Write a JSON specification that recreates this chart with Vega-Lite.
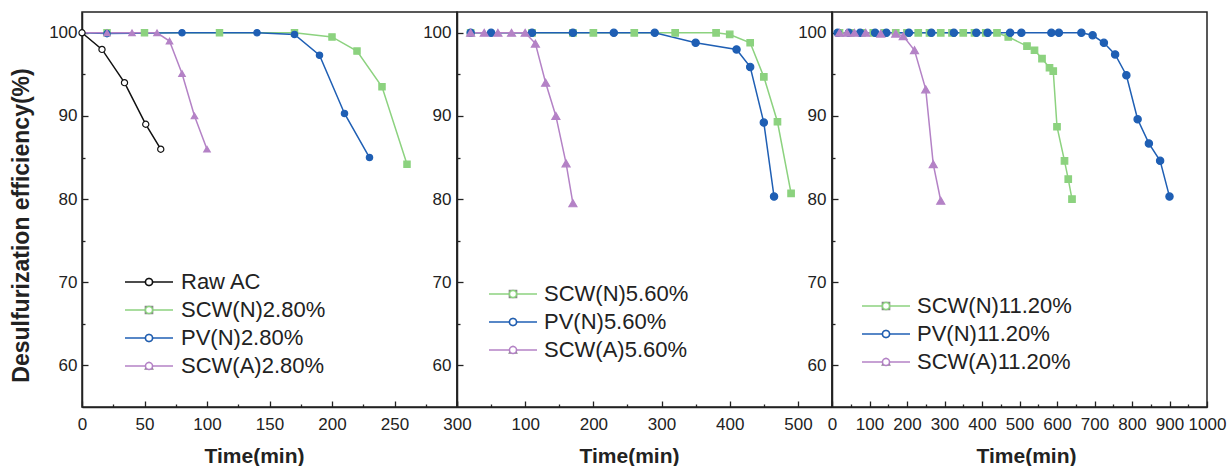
{
  "$schema": "https://vega.github.io/schema/vega-lite/v6.json",
  "padding": {"left": 9, "top": 11, "right": 2, "bottom": 0},
  "spacing": 0,
  "bounds": "flush",
  "config": {
    "font": "Liberation Sans",
    "view": {"stroke": "#222", "strokeWidth": 1.5},
    "axis": {
      "grid": false, "domainColor": "#222", "domainWidth": 1.5, "tickColor": "#222", "tickWidth": 1.3,
      "labelFont": "Liberation Sans", "labelFontSize": 17, "labelColor": "#222", "labelOverlap": false, "labelFlush": false, "format": "d",
      "titleFont": "Liberation Sans", "titleFontWeight": "bold", "titleColor": "#222"
    },
    "legend": {"labelFont": "Liberation Sans", "labelColor": "#222", "labelLimit": 400}
  },
  "datasets": {
    "d": [
      {"panel": "p1", "series": "SCW(N)2.80%", "t": 0, "eff": 100},
      {"panel": "p1", "series": "SCW(N)2.80%", "t": 20, "eff": 100},
      {"panel": "p1", "series": "SCW(N)2.80%", "t": 50, "eff": 100},
      {"panel": "p1", "series": "SCW(N)2.80%", "t": 110, "eff": 100},
      {"panel": "p1", "series": "SCW(N)2.80%", "t": 170, "eff": 100},
      {"panel": "p1", "series": "SCW(N)2.80%", "t": 200, "eff": 99.5},
      {"panel": "p1", "series": "SCW(N)2.80%", "t": 220, "eff": 97.8},
      {"panel": "p1", "series": "SCW(N)2.80%", "t": 240, "eff": 93.5},
      {"panel": "p1", "series": "SCW(N)2.80%", "t": 260, "eff": 84.2},
      {"panel": "p1", "series": "PV(N)2.80%", "t": 0, "eff": 100},
      {"panel": "p1", "series": "PV(N)2.80%", "t": 20, "eff": 99.9},
      {"panel": "p1", "series": "PV(N)2.80%", "t": 80, "eff": 100},
      {"panel": "p1", "series": "PV(N)2.80%", "t": 140, "eff": 100},
      {"panel": "p1", "series": "PV(N)2.80%", "t": 170, "eff": 99.8},
      {"panel": "p1", "series": "PV(N)2.80%", "t": 190, "eff": 97.3},
      {"panel": "p1", "series": "PV(N)2.80%", "t": 210, "eff": 90.3},
      {"panel": "p1", "series": "PV(N)2.80%", "t": 230, "eff": 85.0},
      {"panel": "p1", "series": "SCW(A)2.80%", "t": 0, "eff": 100},
      {"panel": "p1", "series": "SCW(A)2.80%", "t": 20, "eff": 100},
      {"panel": "p1", "series": "SCW(A)2.80%", "t": 40, "eff": 100},
      {"panel": "p1", "series": "SCW(A)2.80%", "t": 60, "eff": 100},
      {"panel": "p1", "series": "SCW(A)2.80%", "t": 70, "eff": 99.0},
      {"panel": "p1", "series": "SCW(A)2.80%", "t": 80, "eff": 95.1},
      {"panel": "p1", "series": "SCW(A)2.80%", "t": 90, "eff": 90.0},
      {"panel": "p1", "series": "SCW(A)2.80%", "t": 100, "eff": 86.0},
      {"panel": "p1", "series": "Raw AC", "t": 0, "eff": 100},
      {"panel": "p1", "series": "Raw AC", "t": 16, "eff": 98.0},
      {"panel": "p1", "series": "Raw AC", "t": 34, "eff": 94.0},
      {"panel": "p1", "series": "Raw AC", "t": 51, "eff": 89.0},
      {"panel": "p1", "series": "Raw AC", "t": 63, "eff": 86.0},

      {"panel": "p2", "series": "SCW(N)5.60%", "t": 20, "eff": 100},
      {"panel": "p2", "series": "SCW(N)5.60%", "t": 110, "eff": 100},
      {"panel": "p2", "series": "SCW(N)5.60%", "t": 170, "eff": 100},
      {"panel": "p2", "series": "SCW(N)5.60%", "t": 200, "eff": 100},
      {"panel": "p2", "series": "SCW(N)5.60%", "t": 260, "eff": 100},
      {"panel": "p2", "series": "SCW(N)5.60%", "t": 320, "eff": 100},
      {"panel": "p2", "series": "SCW(N)5.60%", "t": 380, "eff": 100},
      {"panel": "p2", "series": "SCW(N)5.60%", "t": 400, "eff": 99.8},
      {"panel": "p2", "series": "SCW(N)5.60%", "t": 430, "eff": 98.8},
      {"panel": "p2", "series": "SCW(N)5.60%", "t": 450, "eff": 94.7},
      {"panel": "p2", "series": "SCW(N)5.60%", "t": 470, "eff": 89.3},
      {"panel": "p2", "series": "SCW(N)5.60%", "t": 490, "eff": 80.7},
      {"panel": "p2", "series": "PV(N)5.60%", "t": 20, "eff": 100},
      {"panel": "p2", "series": "PV(N)5.60%", "t": 50, "eff": 100},
      {"panel": "p2", "series": "PV(N)5.60%", "t": 110, "eff": 100},
      {"panel": "p2", "series": "PV(N)5.60%", "t": 170, "eff": 100},
      {"panel": "p2", "series": "PV(N)5.60%", "t": 230, "eff": 100},
      {"panel": "p2", "series": "PV(N)5.60%", "t": 290, "eff": 100},
      {"panel": "p2", "series": "PV(N)5.60%", "t": 350, "eff": 98.8},
      {"panel": "p2", "series": "PV(N)5.60%", "t": 410, "eff": 98.0},
      {"panel": "p2", "series": "PV(N)5.60%", "t": 430, "eff": 95.9},
      {"panel": "p2", "series": "PV(N)5.60%", "t": 450, "eff": 89.2},
      {"panel": "p2", "series": "PV(N)5.60%", "t": 465, "eff": 80.3},
      {"panel": "p2", "series": "SCW(A)5.60%", "t": 20, "eff": 100},
      {"panel": "p2", "series": "SCW(A)5.60%", "t": 40, "eff": 100},
      {"panel": "p2", "series": "SCW(A)5.60%", "t": 60, "eff": 100},
      {"panel": "p2", "series": "SCW(A)5.60%", "t": 80, "eff": 100},
      {"panel": "p2", "series": "SCW(A)5.60%", "t": 100, "eff": 100},
      {"panel": "p2", "series": "SCW(A)5.60%", "t": 115, "eff": 98.7},
      {"panel": "p2", "series": "SCW(A)5.60%", "t": 130, "eff": 94.0},
      {"panel": "p2", "series": "SCW(A)5.60%", "t": 145, "eff": 90.0},
      {"panel": "p2", "series": "SCW(A)5.60%", "t": 160, "eff": 84.3},
      {"panel": "p2", "series": "SCW(A)5.60%", "t": 170, "eff": 79.5},

      {"panel": "p3", "series": "SCW(N)11.20%", "t": 20, "eff": 100},
      {"panel": "p3", "series": "SCW(N)11.20%", "t": 50, "eff": 100},
      {"panel": "p3", "series": "SCW(N)11.20%", "t": 80, "eff": 100},
      {"panel": "p3", "series": "SCW(N)11.20%", "t": 110, "eff": 100},
      {"panel": "p3", "series": "SCW(N)11.20%", "t": 140, "eff": 100},
      {"panel": "p3", "series": "SCW(N)11.20%", "t": 170, "eff": 100},
      {"panel": "p3", "series": "SCW(N)11.20%", "t": 200, "eff": 100},
      {"panel": "p3", "series": "SCW(N)11.20%", "t": 230, "eff": 100},
      {"panel": "p3", "series": "SCW(N)11.20%", "t": 260, "eff": 100},
      {"panel": "p3", "series": "SCW(N)11.20%", "t": 290, "eff": 100},
      {"panel": "p3", "series": "SCW(N)11.20%", "t": 320, "eff": 100},
      {"panel": "p3", "series": "SCW(N)11.20%", "t": 350, "eff": 100},
      {"panel": "p3", "series": "SCW(N)11.20%", "t": 380, "eff": 100},
      {"panel": "p3", "series": "SCW(N)11.20%", "t": 410, "eff": 100},
      {"panel": "p3", "series": "SCW(N)11.20%", "t": 440, "eff": 100},
      {"panel": "p3", "series": "SCW(N)11.20%", "t": 470, "eff": 99.5},
      {"panel": "p3", "series": "SCW(N)11.20%", "t": 520, "eff": 98.4},
      {"panel": "p3", "series": "SCW(N)11.20%", "t": 540, "eff": 97.9},
      {"panel": "p3", "series": "SCW(N)11.20%", "t": 560, "eff": 96.9},
      {"panel": "p3", "series": "SCW(N)11.20%", "t": 580, "eff": 95.8},
      {"panel": "p3", "series": "SCW(N)11.20%", "t": 590, "eff": 95.4},
      {"panel": "p3", "series": "SCW(N)11.20%", "t": 600, "eff": 88.7},
      {"panel": "p3", "series": "SCW(N)11.20%", "t": 620, "eff": 84.6},
      {"panel": "p3", "series": "SCW(N)11.20%", "t": 630, "eff": 82.4},
      {"panel": "p3", "series": "SCW(N)11.20%", "t": 640, "eff": 80.0},
      {"panel": "p3", "series": "PV(N)11.20%", "t": 15, "eff": 100},
      {"panel": "p3", "series": "PV(N)11.20%", "t": 45, "eff": 100},
      {"panel": "p3", "series": "PV(N)11.20%", "t": 75, "eff": 100},
      {"panel": "p3", "series": "PV(N)11.20%", "t": 115, "eff": 100},
      {"panel": "p3", "series": "PV(N)11.20%", "t": 145, "eff": 100},
      {"panel": "p3", "series": "PV(N)11.20%", "t": 205, "eff": 100},
      {"panel": "p3", "series": "PV(N)11.20%", "t": 265, "eff": 100},
      {"panel": "p3", "series": "PV(N)11.20%", "t": 325, "eff": 100},
      {"panel": "p3", "series": "PV(N)11.20%", "t": 385, "eff": 100},
      {"panel": "p3", "series": "PV(N)11.20%", "t": 415, "eff": 100},
      {"panel": "p3", "series": "PV(N)11.20%", "t": 475, "eff": 100},
      {"panel": "p3", "series": "PV(N)11.20%", "t": 505, "eff": 100},
      {"panel": "p3", "series": "PV(N)11.20%", "t": 585, "eff": 100},
      {"panel": "p3", "series": "PV(N)11.20%", "t": 605, "eff": 100},
      {"panel": "p3", "series": "PV(N)11.20%", "t": 665, "eff": 100},
      {"panel": "p3", "series": "PV(N)11.20%", "t": 695, "eff": 99.7},
      {"panel": "p3", "series": "PV(N)11.20%", "t": 725, "eff": 98.8},
      {"panel": "p3", "series": "PV(N)11.20%", "t": 755, "eff": 97.4},
      {"panel": "p3", "series": "PV(N)11.20%", "t": 785, "eff": 94.9},
      {"panel": "p3", "series": "PV(N)11.20%", "t": 815, "eff": 89.6},
      {"panel": "p3", "series": "PV(N)11.20%", "t": 845, "eff": 86.7},
      {"panel": "p3", "series": "PV(N)11.20%", "t": 875, "eff": 84.6},
      {"panel": "p3", "series": "PV(N)11.20%", "t": 900, "eff": 80.3},
      {"panel": "p3", "series": "SCW(A)11.20%", "t": 20, "eff": 100},
      {"panel": "p3", "series": "SCW(A)11.20%", "t": 40, "eff": 100},
      {"panel": "p3", "series": "SCW(A)11.20%", "t": 60, "eff": 100},
      {"panel": "p3", "series": "SCW(A)11.20%", "t": 90, "eff": 100},
      {"panel": "p3", "series": "SCW(A)11.20%", "t": 130, "eff": 99.9},
      {"panel": "p3", "series": "SCW(A)11.20%", "t": 170, "eff": 99.9},
      {"panel": "p3", "series": "SCW(A)11.20%", "t": 190, "eff": 99.6},
      {"panel": "p3", "series": "SCW(A)11.20%", "t": 220, "eff": 97.9},
      {"panel": "p3", "series": "SCW(A)11.20%", "t": 250, "eff": 93.2},
      {"panel": "p3", "series": "SCW(A)11.20%", "t": 270, "eff": 84.2},
      {"panel": "p3", "series": "SCW(A)11.20%", "t": 290, "eff": 79.8}
    ]
  },
  "data": {"name": "d"},
  "resolve": {"scale": {"x": "independent", "y": "independent", "stroke": "independent", "fill": "independent", "shape": "independent", "size": "independent"}},
  "hconcat": [
    {
      "width": 375, "height": 395,
      "transform": [{"filter": "datum.panel == 'p1'"}],
      "resolve": {"scale": {"stroke": "independent"}},
      "encoding": {
        "x": {"field": "t", "type": "quantitative", "scale": {"domain": [0, 300], "nice": false, "zero": false},
          "axis": {"values": [0,25,50,75,100,125,150,175,200,225,250,275,300], "labelExpr": "datum.value % 50 === 0 ? datum.label : ''",
            "tickSize": {"condition": {"test": "datum.value % 50 !== 0", "value": -3}, "value": -6},
            "labelPadding": 15, "title": "Time(min)", "titleFontSize": 21, "titleX": 172, "titleY": 55, "titleBaseline": "alphabetic", "titleAlign": "center"}},
        "y": {"field": "eff", "type": "quantitative", "scale": {"domain": [55, 102.5], "nice": false, "zero": false},
          "axis": {"values": [60,65,70,75,80,85,90,95,100], "labelExpr": "datum.value % 10 === 0 ? datum.label : ''",
            "tickSize": {"condition": {"test": "datum.value % 10 !== 0", "value": -3}, "value": -6},
            "labelPadding": 11, "title": "Desulfurization efficiency(%)", "titleFontSize": 23, "titleAngle": 270, "titleX": -54, "titleY": 213, "titleBaseline": "alphabetic", "titleAlign": "center"}}
      },
      "layer": [
        {
          "mark": {"type": "line", "strokeWidth": 1.5},
          "encoding": {
            "stroke": {"field": "series", "type": "nominal",
              "scale": {"domain": ["Raw AC", "SCW(N)2.80%", "PV(N)2.80%", "SCW(A)2.80%"], "range": ["#111111", "#8cd27f", "#1f5fb4", "#b482c6"]},
              "legend": {"orient": "none", "legendX": 56, "legendY": 259, "title": null, "symbolType": "M-6,0H6", "symbolSize": 64, "symbolStrokeWidth": 1.5, "labelFontSize": 22, "labelOffset": 21, "rowPadding": 6, "padding": 0}}
          }
        },
        {
          "transform": [{"calculate": "datum.series", "as": "series2"}, {"filter": "datum.t > 0 || datum.series == 'Raw AC'"}],
          "mark": {"type": "point", "filled": true, "opacity": 1, "strokeWidth": 1.2},
          "encoding": {
            "shape": {"field": "series2", "type": "nominal", "sort": ["Raw AC", "SCW(N)2.80%", "PV(N)2.80%", "SCW(A)2.80%"], "scale": {"range": ["circle", "square", "circle", "triangle-up"]},
              "legend": {"orient": "none", "legendX": 56, "legendY": 259, "title": null, "symbolSize": 50, "symbolFillColor": "#ffffff", "symbolStrokeWidth": 1.6, "labelFontSize": 22, "labelExpr": "''", "labelOffset": 21, "rowPadding": 6, "padding": 0}},
            "fill": {"field": "series2", "type": "nominal", "sort": ["Raw AC", "SCW(N)2.80%", "PV(N)2.80%", "SCW(A)2.80%"], "scale": {"range": ["#ffffff", "#8cd27f", "#1f5fb4", "#b482c6"]},
              "legend": {"orient": "none", "legendX": 56, "legendY": 259, "title": null, "symbolSize": 50, "symbolFillColor": "#ffffff", "symbolStrokeWidth": 1.6, "labelFontSize": 22, "labelExpr": "''", "labelOffset": 21, "rowPadding": 6, "padding": 0}},
            "stroke": {"field": "series2", "type": "nominal", "sort": ["Raw AC", "SCW(N)2.80%", "PV(N)2.80%", "SCW(A)2.80%"], "scale": {"range": ["#111111", "#8cd27f", "#1f5fb4", "#b482c6"]},
              "legend": {"orient": "none", "legendX": 56, "legendY": 259, "title": null, "symbolSize": 50, "symbolFillColor": "#ffffff", "symbolStrokeWidth": 1.6, "labelFontSize": 22, "labelExpr": "''", "labelOffset": 21, "rowPadding": 6, "padding": 0}},
            "size": {"field": "series2", "type": "nominal", "sort": ["Raw AC", "SCW(N)2.80%", "PV(N)2.80%", "SCW(A)2.80%"], "scale": {"range": [38, 42, 64, 70]}, "legend": null}
          }
        }
      ]
    },
    {
      "width": 375, "height": 395,
      "transform": [{"filter": "datum.panel == 'p2'"}],
      "resolve": {"scale": {"stroke": "independent"}},
      "encoding": {
        "x": {"field": "t", "type": "quantitative", "scale": {"domain": [0, 550], "nice": false, "zero": false},
          "axis": {"values": [0,50,100,150,200,250,300,350,400,450,500], "labelExpr": "datum.value % 100 === 0 && datum.value > 0 ? datum.label : ''",
            "tickSize": {"condition": {"test": "datum.value % 100 !== 0", "value": -3}, "value": -6},
            "labelPadding": 15, "title": "Time(min)", "titleFontSize": 21, "titleX": 172, "titleY": 55, "titleBaseline": "alphabetic", "titleAlign": "center"}},
        "y": {"field": "eff", "type": "quantitative", "scale": {"domain": [55, 102.5], "nice": false, "zero": false},
          "axis": {"values": [60,65,70,75,80,85,90,95,100], "labelExpr": "datum.value % 10 === 0 ? datum.label : ''",
            "tickSize": {"condition": {"test": "datum.value % 10 !== 0", "value": -3}, "value": -6},
            "labelPadding": 12, "title": null}}
      },
      "layer": [
        {
          "mark": {"type": "line", "strokeWidth": 1.5},
          "encoding": {
            "stroke": {"field": "series", "type": "nominal",
              "scale": {"domain": ["SCW(N)5.60%", "PV(N)5.60%", "SCW(A)5.60%"], "range": ["#8cd27f", "#1f5fb4", "#b482c6"]},
              "legend": {"orient": "none", "legendX": 45, "legendY": 271, "title": null, "symbolType": "M-6,0H6", "symbolSize": 64, "symbolStrokeWidth": 1.5, "labelFontSize": 22, "labelOffset": 20, "rowPadding": 6, "padding": 0}}
          }
        },
        {
          "transform": [{"calculate": "datum.series", "as": "series2"}],
          "mark": {"type": "point", "filled": true, "opacity": 1, "strokeWidth": 1.2},
          "encoding": {
            "shape": {"field": "series2", "type": "nominal", "sort": ["SCW(N)5.60%", "PV(N)5.60%", "SCW(A)5.60%"], "scale": {"range": ["square", "circle", "triangle-up"]},
              "legend": {"orient": "none", "legendX": 45, "legendY": 271, "title": null, "symbolSize": 50, "symbolFillColor": "#ffffff", "symbolStrokeWidth": 1.6, "labelFontSize": 22, "labelExpr": "''", "labelOffset": 20, "rowPadding": 6, "padding": 0}},
            "fill": {"field": "series2", "type": "nominal", "sort": ["SCW(N)5.60%", "PV(N)5.60%", "SCW(A)5.60%"], "scale": {"range": ["#8cd27f", "#1f5fb4", "#b482c6"]},
              "legend": {"orient": "none", "legendX": 45, "legendY": 271, "title": null, "symbolSize": 50, "symbolFillColor": "#ffffff", "symbolStrokeWidth": 1.6, "labelFontSize": 22, "labelExpr": "''", "labelOffset": 20, "rowPadding": 6, "padding": 0}},
            "stroke": {"field": "series2", "type": "nominal", "sort": ["SCW(N)5.60%", "PV(N)5.60%", "SCW(A)5.60%"], "scale": {"range": ["#8cd27f", "#1f5fb4", "#b482c6"]},
              "legend": {"orient": "none", "legendX": 45, "legendY": 271, "title": null, "symbolSize": 50, "symbolFillColor": "#ffffff", "symbolStrokeWidth": 1.6, "labelFontSize": 22, "labelExpr": "''", "labelOffset": 20, "rowPadding": 6, "padding": 0}},
            "size": {"field": "series2", "type": "nominal", "sort": ["SCW(N)5.60%", "PV(N)5.60%", "SCW(A)5.60%"], "scale": {"range": [42, 64, 70]}, "legend": null}
          }
        }
      ]
    },
    {
      "width": 375, "height": 395,
      "transform": [{"filter": "datum.panel == 'p3'"}],
      "resolve": {"scale": {"stroke": "independent"}},
      "encoding": {
        "x": {"field": "t", "type": "quantitative", "scale": {"domain": [0, 1000], "nice": false, "zero": false},
          "axis": {"values": [0,50,100,150,200,250,300,350,400,450,500,550,600,650,700,750,800,850,900,950,1000], "labelExpr": "datum.value % 100 === 0 ? datum.label : ''",
            "tickSize": {"condition": {"test": "datum.value % 100 !== 0", "value": -3}, "value": -6},
            "labelPadding": 15, "title": "Time(min)", "titleFontSize": 21, "titleX": 194, "titleY": 55, "titleBaseline": "alphabetic", "titleAlign": "center"}},
        "y": {"field": "eff", "type": "quantitative", "scale": {"domain": [55, 102.5], "nice": false, "zero": false},
          "axis": {"values": [60,65,70,75,80,85,90,95,100], "labelExpr": "datum.value % 10 === 0 ? datum.label : ''",
            "tickSize": {"condition": {"test": "datum.value % 10 !== 0", "value": -3}, "value": -6},
            "labelPadding": 12, "title": null}}
      },
      "layer": [
        {
          "mark": {"type": "line", "strokeWidth": 1.5},
          "encoding": {
            "stroke": {"field": "series", "type": "nominal",
              "scale": {"domain": ["SCW(N)11.20%", "PV(N)11.20%", "SCW(A)11.20%"], "range": ["#8cd27f", "#1f5fb4", "#b482c6"]},
              "legend": {"orient": "none", "legendX": 43, "legendY": 283, "title": null, "symbolType": "M-6,0H6", "symbolSize": 64, "symbolStrokeWidth": 1.5, "labelFontSize": 22, "labelOffset": 20, "rowPadding": 6, "padding": 0}}
          }
        },
        {
          "transform": [{"calculate": "datum.series", "as": "series2"}],
          "mark": {"type": "point", "filled": true, "opacity": 1, "strokeWidth": 1.2},
          "encoding": {
            "shape": {"field": "series2", "type": "nominal", "sort": ["SCW(N)11.20%", "PV(N)11.20%", "SCW(A)11.20%"], "scale": {"range": ["square", "circle", "triangle-up"]},
              "legend": {"orient": "none", "legendX": 43, "legendY": 283, "title": null, "symbolSize": 50, "symbolFillColor": "#ffffff", "symbolStrokeWidth": 1.6, "labelFontSize": 22, "labelExpr": "''", "labelOffset": 20, "rowPadding": 6, "padding": 0}},
            "fill": {"field": "series2", "type": "nominal", "sort": ["SCW(N)11.20%", "PV(N)11.20%", "SCW(A)11.20%"], "scale": {"range": ["#8cd27f", "#1f5fb4", "#b482c6"]},
              "legend": {"orient": "none", "legendX": 43, "legendY": 283, "title": null, "symbolSize": 50, "symbolFillColor": "#ffffff", "symbolStrokeWidth": 1.6, "labelFontSize": 22, "labelExpr": "''", "labelOffset": 20, "rowPadding": 6, "padding": 0}},
            "stroke": {"field": "series2", "type": "nominal", "sort": ["SCW(N)11.20%", "PV(N)11.20%", "SCW(A)11.20%"], "scale": {"range": ["#8cd27f", "#1f5fb4", "#b482c6"]},
              "legend": {"orient": "none", "legendX": 43, "legendY": 283, "title": null, "symbolSize": 50, "symbolFillColor": "#ffffff", "symbolStrokeWidth": 1.6, "labelFontSize": 22, "labelExpr": "''", "labelOffset": 20, "rowPadding": 6, "padding": 0}},
            "size": {"field": "series2", "type": "nominal", "sort": ["SCW(N)11.20%", "PV(N)11.20%", "SCW(A)11.20%"], "scale": {"range": [42, 64, 70]}, "legend": null}
          }
        }
      ]
    }
  ]
}
